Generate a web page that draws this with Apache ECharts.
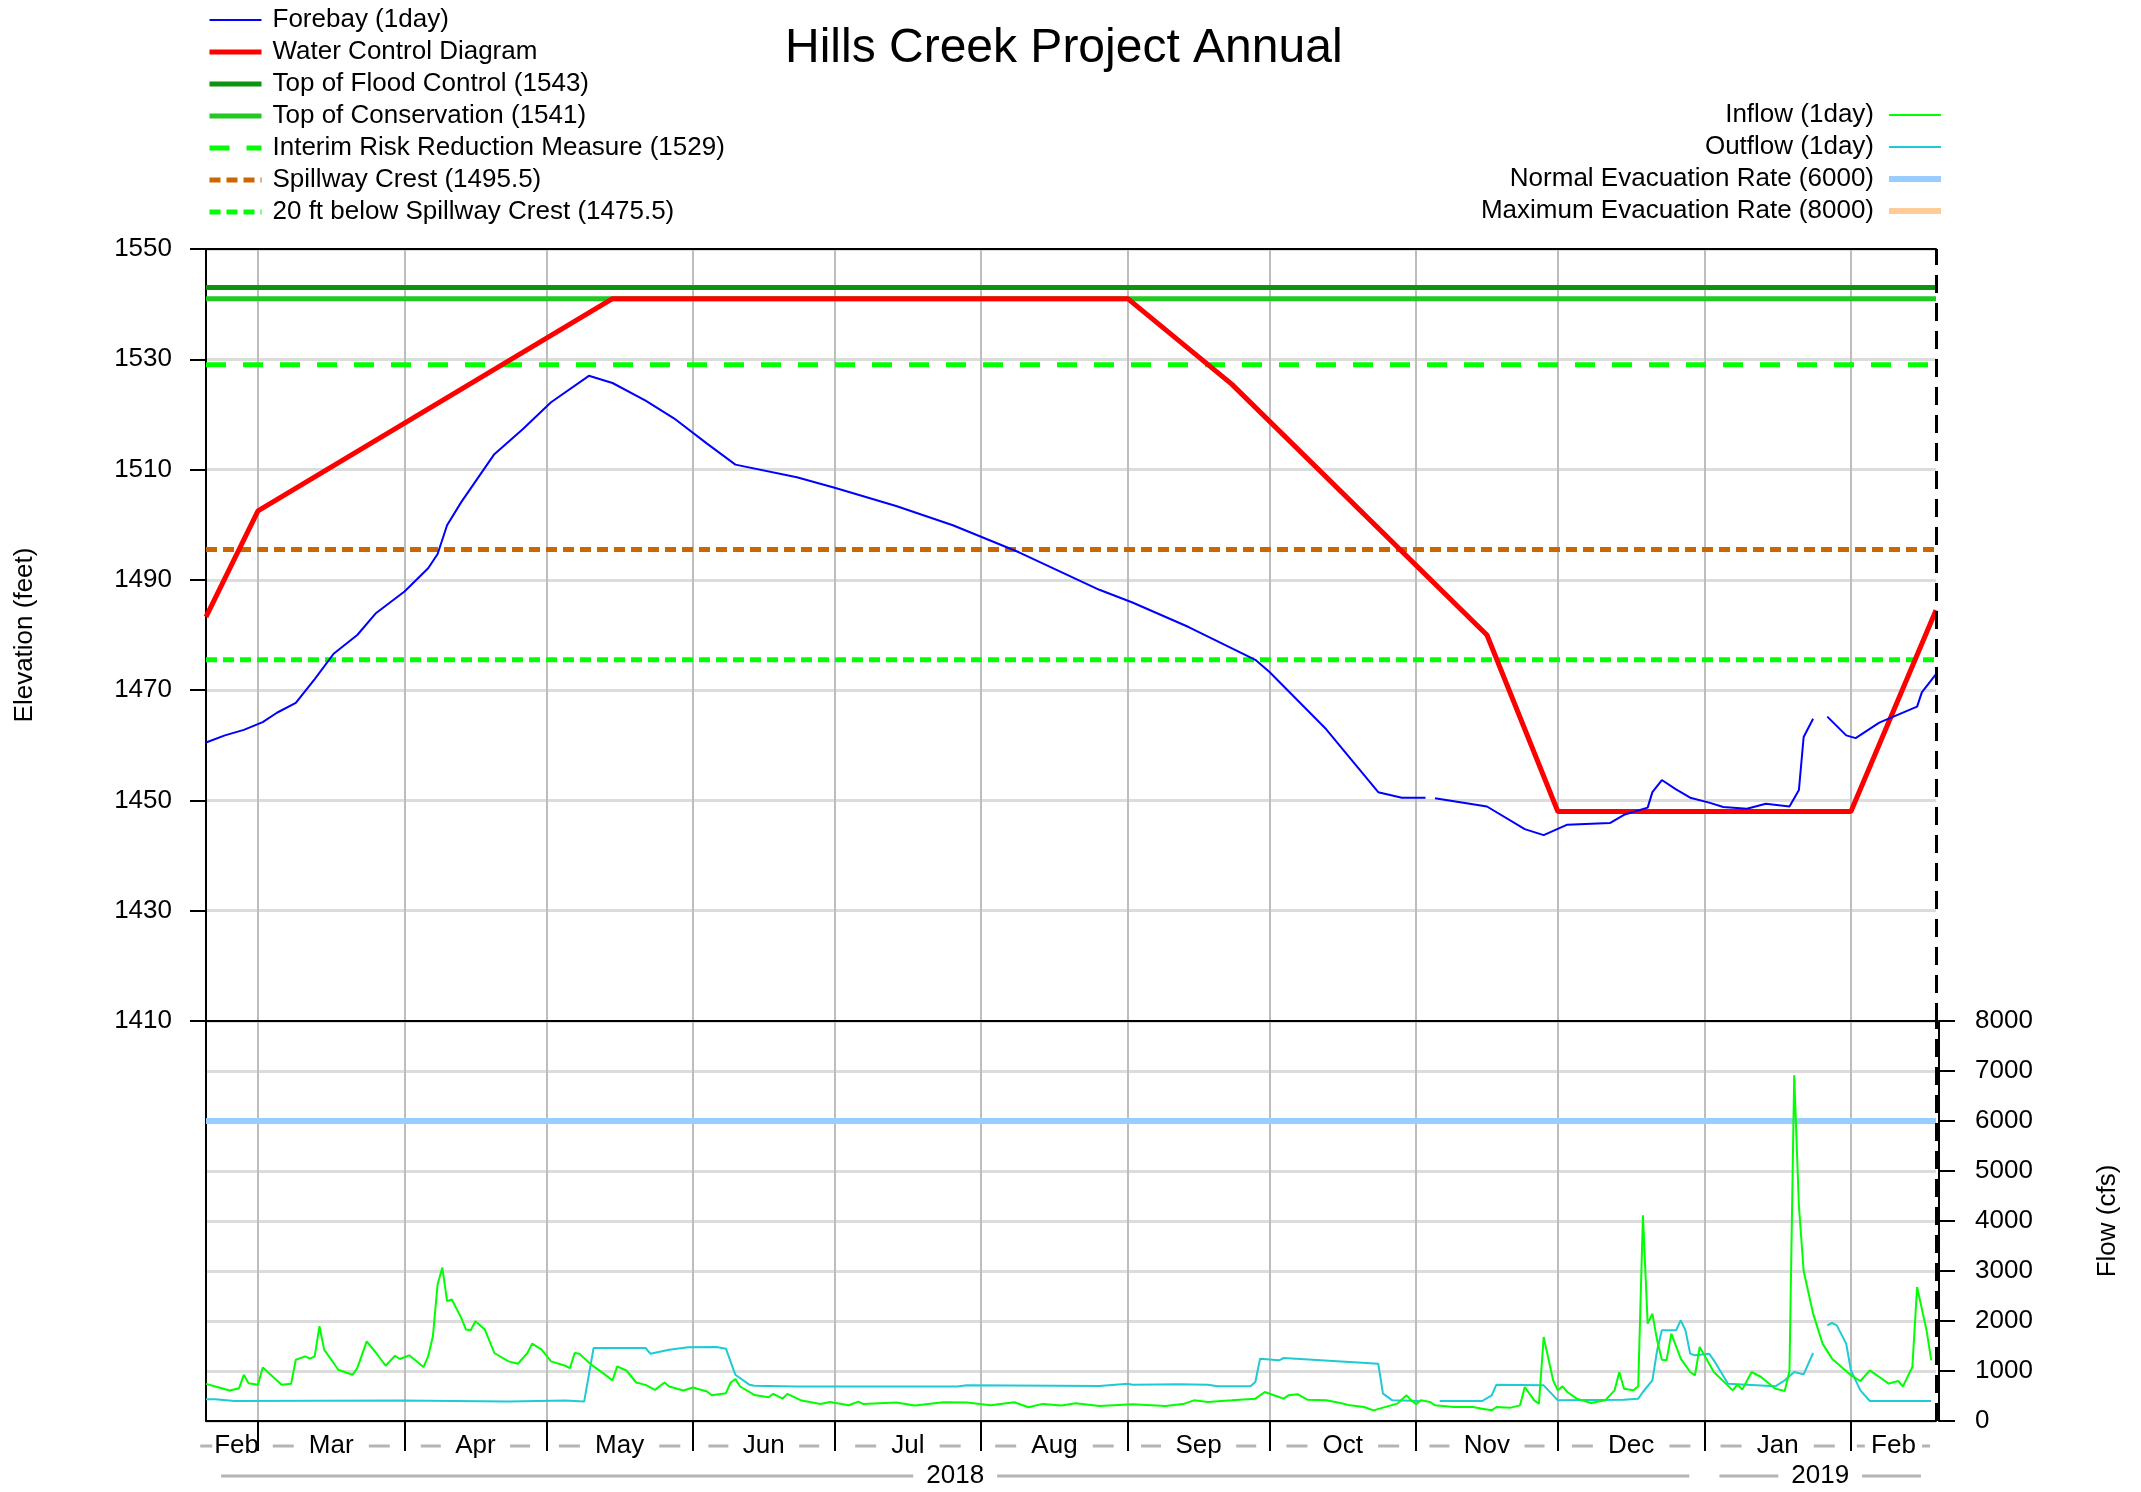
<!DOCTYPE html>
<html>
<head>
<meta charset="utf-8">
<title>Hills Creek Project Annual</title>
<script src="https://cdn.jsdelivr.net/npm/echarts@6.0.0/dist/echarts.min.js"></script>
<style>
  html, body { margin: 0; padding: 0; background: #fff; }
  #chart { width: 2141px; height: 1492px; }
</style>
</head>
<body>
<div id="chart"></div>
<script>
// axis runs day by day from 2018-02-18 to 2019-02-19
const startMs = Date.UTC(2018, 1, 18);
const dayCount = 367;
const monthNames = ['Jan', 'Feb', 'Mar', 'Apr', 'May', 'Jun', 'Jul', 'Aug', 'Sep', 'Oct', 'Nov', 'Dec'];

// elevation series (day number from start, feet)
const forebayDays = [0, 4, 8, 12, 15, 19, 23, 27, 32, 36, 42, 47, 49, 51, 54, 61, 67, 73, 81, 86, 93, 99, 106, 112, 125, 133, 146, 158, 172, 189, 196, 208, 222, 225, 237, 248, 253, 258, 259, 260, 271, 279, 283, 288, 297, 300, 305, 306, 308, 311, 314, 318, 321, 326, 330, 335, 337, 338, 340, 341, 343, 347, 349, 354, 362, 363, 366];
const forebayElev = [1460.5, 1461.8, 1462.8, 1464.2, 1465.9, 1467.7, 1472.0, 1476.6, 1480.0, 1484.0, 1487.9, 1492.1, 1494.7, 1499.9, 1504.1, 1512.8, 1517.3, 1522.2, 1527.0, 1525.7, 1522.5, 1519.3, 1514.7, 1510.9, 1508.6, 1506.7, 1503.4, 1499.9, 1495.0, 1488.2, 1485.9, 1481.4, 1475.5, 1473.3, 1462.9, 1451.5, 1450.5, 1450.5, null, 1450.4, 1448.9, 1444.8, 1443.7, 1445.6, 1445.9, 1447.4, 1448.7, 1451.5, 1453.7, 1452.0, 1450.5, 1449.6, 1448.8, 1448.5, 1449.4, 1448.9, 1451.9, 1461.5, 1464.8, null, 1465.2, 1461.8, 1461.3, 1464.1, 1467.0, 1469.6, 1472.9];

const wcdDays = [0, 11, 86, 195, 217, 271, 286, 348, 366];
const wcdElev = [1483.3, 1502.5, 1541, 1541, 1525.5, 1480, 1448, 1448, 1484.5];

const topFloodControl = 1543;
const topConservation = 1541;
const interimRisk = 1529;
const spillwayCrest = 1495.5;
const belowSpillway = 1475.5;

// flow series (cfs)
const inflowDays = [0, 2, 5, 7, 8, 9, 11, 12, 16, 18, 19, 21, 22, 23, 24, 25, 28, 31, 32, 34, 36, 38, 40, 41, 43, 46, 47, 48, 49, 50, 51, 52, 54, 55, 56, 57, 59, 61, 64, 66, 68, 69, 71, 73, 76, 77, 78, 79, 81, 82, 84, 86, 87, 89, 91, 93, 95, 97, 98, 101, 103, 106, 107, 110, 111, 112, 113, 116, 119, 120, 122, 123, 126, 130, 132, 136, 138, 139, 146, 150, 156, 161, 166, 171, 174, 177, 181, 184, 189, 196, 203, 207, 209, 212, 217, 222, 224, 227, 228, 229, 231, 233, 237, 240, 242, 245, 247, 249, 252, 254, 255, 256, 257, 259, 260, 264, 268, 270, 272, 273, 276, 278, 279, 281, 282, 283, 285, 286, 287, 288, 290, 293, 296, 298, 299, 300, 302, 303, 304, 305, 306, 307, 308, 309, 310, 312, 314, 315, 316, 319, 323, 324, 325, 327, 329, 332, 334, 335, 336, 337, 338, 340, 342, 344, 346, 348, 350, 352, 354, 356, 358, 359, 361, 362, 364, 365];
const inflowCfs = [743, 690, 610, 656, 924, 757, 723, 1072, 723, 743, 1226, 1293, 1246, 1293, 1895, 1427, 1025, 924, 1058, 1594, 1360, 1105, 1306, 1239, 1313, 1078, 1293, 1695, 2733, 3068, 2398, 2431, 2063, 1829, 1815, 1996, 1829, 1360, 1192, 1145, 1360, 1547, 1427, 1192, 1105, 1058, 1360, 1346, 1172, 1092, 958, 810, 1092, 1005, 770, 723, 623, 770, 690, 610, 670, 589, 516, 556, 770, 837, 690, 522, 476, 543, 449, 543, 409, 342, 382, 315, 388, 342, 368, 308, 375, 368, 315, 375, 275, 342, 308, 355, 301, 333, 300, 347, 413, 380, 413, 447, 580, 480, 447, 513, 533, 427, 413, 360, 313, 280, 213, 267, 347, 513, 413, 333, 413, 380, 313, 280, 280, 247, 213, 280, 267, 313, 680, 413, 347, 1680, 813, 613, 693, 580, 447, 360, 413, 613, 980, 647, 613, 693, 4115, 1947, 2147, 1613, 1227, 1213, 1747, 1247, 980, 913, 1480, 980, 613, 733, 627, 980, 880, 647, 600, 1000, 6917, 4300, 3000, 2147, 1547, 1247, 1080, 913, 800, 1013, 880, 747, 800, 693, 1080, 2680, 1813, 1213];

const outflowDays = [0, 2, 6, 41, 64, 76, 80, 82, 93, 94, 98, 102, 108, 110, 112, 115, 116, 125, 159, 161, 189, 195, 196, 206, 212, 214, 221, 222, 223, 227, 228, 248, 249, 251, 257, 259, 261, 270, 272, 273, 283, 284, 286, 300, 303, 304, 306, 307, 308, 311, 312, 313, 314, 315, 318, 319, 322, 332, 334, 336, 338, 340, 341, 343, 344, 345, 347, 348, 350, 352, 365];
const outflowCfs = [435, 435, 402, 409, 388, 409, 388, 1460, 1460, 1346, 1427, 1474, 1480, 1447, 924, 723, 703, 690, 690, 717, 700, 747, 727, 733, 727, 693, 693, 780, 1247, 1213, 1260, 1147, 547, 413, 400, null, 400, 400, 513, 727, 713, 613, 413, 427, 447, 580, 813, 1413, 1813, 1813, 2013, 1813, 1347, 1313, 1347, 1213, 747, 693, 813, 980, 933, 1360, null, 1913, 1960, 1913, 1547, 1013, 613, 400, 400];

const normalEvac = 6000;
const maxEvac = 8000;

const chartFont = '"Liberation Sans", Arial, sans-serif';
const plotLeft = 206, plotRight = 1936;

// categories
const days = [], dayDates = [];
for (let i = 0; i < dayCount; i++) {
  const d = new Date(startMs + i * 86400000);
  dayDates.push(d);
  days.push(d.toISOString().slice(0, 10));
}
const monthStarts = [], yearStarts = [];
dayDates.forEach((d, i) => {
  if (d.getUTCDate() === 1) {
    monthStarts.push(i);
    if (d.getUTCMonth() === 0) yearStarts.push(i);
  }
});
const monthSet = new Set(monthStarts), yearSet = new Set(yearStarts);
const pxPerDay = (plotRight - plotLeft) / (dayCount - 1);

function sectionsOf(starts) {
  const b = [0].concat(starts, [dayCount - 1]);
  const out = [];
  for (let k = 0; k < b.length - 1; k++) out.push([b[k], b[k + 1]]);
  return out;
}

// month labels: "— Mar —" centred in each month
const monthLabels = {}, monthRich = {};
sectionsOf(monthStarts).forEach(([a, b], k) => {
  const c = (a + b) / 2, idx = Math.floor(c), shift = (c - idx) * pxPerDay;
  const name = monthNames[dayDates[a].getUTCMonth()];
  const side = ((b - a) * pxPerDay - 44) / 2;
  if (side < 12) {
    monthRich['d' + k] = { width: 12, height: 3, lineHeight: 3, fontSize: 1, backgroundColor: '#b4b4b4', verticalAlign: 'middle' };
    monthRich['i' + k] = { width: 2 };
    monthLabels[idx] = `{d${k}| }{i${k}| }${name}`;
  } else {
    const dash = Math.round(side * 0.4), gap = (side - dash) / 2;
    const outer = Math.max(0, gap - 5);
    monthRich['o' + k] = { width: outer + shift };
    monthRich['q' + k] = { width: Math.max(0, outer - shift) };
    monthRich['i' + k] = { width: gap };
    monthRich['d' + k] = { width: dash, height: 3, lineHeight: 3, fontSize: 1, backgroundColor: '#b4b4b4', verticalAlign: 'middle' };
    monthLabels[idx] = `{o${k}| }{d${k}| }{i${k}| }${name}{i${k}| }{d${k}| }{q${k}| }`;
  }
});

// year labels with long rules either side
const yearLabels = {}, yearRich = {};
sectionsOf(yearStarts).forEach(([a, b], k) => {
  const c = (a + b) / 2, idx = Math.floor(c), shift = (c - idx) * pxPerDay;
  const name = String(dayDates[a].getUTCFullYear());
  const side = ((b - a) * pxPerDay - 58) / 2;
  const line = side - 28;
  yearRich['o' + k] = { width: 6 + shift };
  yearRich['q' + k] = { width: 6 - shift };
  yearRich['i' + k] = { width: 13 };
  yearRich['l' + k] = { width: line, height: 3, lineHeight: 3, fontSize: 1, backgroundColor: '#b4b4b4', verticalAlign: 'middle' };
  yearLabels[idx] = `{o${k}| }{l${k}| }{i${k}| }${name}{i${k}| }{l${k}| }{q${k}| }`;
});

function pairs(xs, ys) {
  return xs.map((d, i) => [days[d], ys[i] === null ? '-' : ys[i]]);
}
function level(v) {
  return [[days[0], v], [days[dayCount - 1], v]];
}

const todayLine = {
  symbol: 'none', silent: true, animation: false,
  label: { show: false },
  lineStyle: { color: '#000', width: 3, type: [18, 10] },
  emphasis: { disabled: true },
  data: [{ xAxis: days[dayCount - 1] }]
};

const black = { color: '#000', width: 2 };
const vGrid = { show: true, interval: (i) => monthSet.has(i), lineStyle: { color: '#bdbdbd', width: 2 } };
const hGrid = { show: true, lineStyle: { color: '#dcdcdc', width: 3 } };
const plain = (v) => String(v);

const chart = echarts.init(document.getElementById('chart'));
chart.setOption({
  animation: false,
  backgroundColor: '#fff',
  textStyle: { fontFamily: chartFont },
  title: {
    text: 'Hills Creek Project Annual',
    left: 785, top: 25, padding: 0,
    textStyle: { fontSize: 48, fontWeight: 'normal', color: '#000', fontFamily: chartFont }
  },
  legend: [{
    orient: 'vertical', left: 207, top: 4, padding: 0,
    itemWidth: 52, itemHeight: 14, itemGap: 0,
    selectedMode: false,
    itemStyle: { opacity: 0 },
    lineStyle: { width: 'inherit' },
    textStyle: { fontSize: 26, color: '#000', lineHeight: 32, padding: [0, 0, 0, 6], fontFamily: chartFont },
    data: ['Forebay (1day)', 'Water Control Diagram', 'Top of Flood Control (1543)', 'Top of Conservation (1541)',
      'Interim Risk Reduction Measure (1529)', 'Spillway Crest (1495.5)', '20 ft below Spillway Crest (1475.5)']
  }, {
    orient: 'vertical', right: 197, top: 99, padding: 0, align: 'right',
    itemWidth: 52, itemHeight: 14, itemGap: 0,
    selectedMode: false,
    itemStyle: { opacity: 0 },
    lineStyle: { width: 'inherit' },
    textStyle: { fontSize: 26, color: '#000', lineHeight: 32, padding: [0, 10, 0, 0], fontFamily: chartFont },
    data: ['Inflow (1day)', 'Outflow (1day)', 'Normal Evacuation Rate (6000)',
      { name: 'Maximum Evacuation Rate (8000)', lineStyle: { width: 6 } }]
  }],
  grid: [
    { left: plotLeft, top: 249, width: plotRight - plotLeft, height: 772, outerBoundsMode: 'none' },
    { left: plotLeft, top: 1021, width: plotRight - plotLeft, height: 400, outerBoundsMode: 'none' }
  ],
  xAxis: [{
    gridIndex: 0, type: 'category', data: days, boundaryGap: false, position: 'bottom',
    axisLine: { show: true, lineStyle: black }, axisTick: { show: false }, axisLabel: { show: false },
    splitLine: vGrid
  }, {
    gridIndex: 0, type: 'category', data: days, boundaryGap: false, position: 'top',
    axisLine: { show: true, lineStyle: black }, axisTick: { show: false }, axisLabel: { show: false },
    splitLine: { show: false }
  }, {
    gridIndex: 1, type: 'category', data: days, boundaryGap: false, position: 'bottom',
    axisLine: { show: true, lineStyle: black },
    axisTick: { show: true, interval: (i) => monthSet.has(i), length: 30, lineStyle: black },
    axisLabel: {
      show: true, interval: (i) => i in monthLabels, formatter: (v, i) => monthLabels[i] || '',
      showMinLabel: true, showMaxLabel: true,
      hideOverlap: false, margin: 10, fontSize: 26, color: '#000', lineHeight: 30, fontFamily: chartFont, rich: monthRich
    },
    splitLine: vGrid
  }, {
    gridIndex: 1, type: 'category', data: days, boundaryGap: false, position: 'bottom', offset: 38,
    axisLine: { show: false },
    axisTick: { show: true, interval: (i) => yearSet.has(i), length: 28, lineStyle: black },
    axisLabel: {
      show: true, interval: (i) => i in yearLabels, formatter: (v, i) => yearLabels[i] || '',
      showMinLabel: true, showMaxLabel: true,
      hideOverlap: false, margin: 2, fontSize: 26, color: '#000', lineHeight: 30, fontFamily: chartFont, rich: yearRich
    },
    splitLine: { show: false }
  }, {
    gridIndex: 1, type: 'category', data: days, boundaryGap: false, position: 'top', z: 10,
    axisLine: { show: true, lineStyle: black }, axisTick: { show: false }, axisLabel: { show: false },
    splitLine: { show: false }
  }],
  yAxis: [{
    gridIndex: 0, type: 'value', min: 1410, max: 1550, interval: 20, position: 'left',
    axisLine: { show: true, lineStyle: black },
    axisTick: { show: true, length: 16, lineStyle: black },
    axisLabel: { fontSize: 26, color: '#000', margin: 34, fontFamily: chartFont, formatter: plain },
    splitLine: hGrid,
    name: 'Elevation (feet)', nameLocation: 'middle', nameGap: 168, nameRotate: 90,
    nameTextStyle: { fontSize: 26, color: '#000', fontFamily: chartFont }
  }, {
    gridIndex: 1, type: 'value', min: 0, max: 8000, interval: 1000, position: 'right', offset: 3,
    axisLine: { show: true, lineStyle: black },
    axisTick: { show: true, length: 16, lineStyle: black },
    axisLabel: { fontSize: 26, color: '#000', margin: 36, fontFamily: chartFont, formatter: plain },
    splitLine: hGrid,
    name: 'Flow (cfs)', nameLocation: 'middle', nameGap: 156, nameRotate: 90,
    nameTextStyle: { fontSize: 26, color: '#000', fontFamily: chartFont }
  }, {
    gridIndex: 1, type: 'value', min: 0, max: 8000, position: 'left',
    axisLine: { show: true, lineStyle: black }, axisTick: { show: false }, axisLabel: { show: false },
    splitLine: { show: false }
  }],
  series: [
    { name: 'Top of Flood Control (1543)', type: 'line', xAxisIndex: 0, yAxisIndex: 0, symbol: 'none',
      lineStyle: { color: '#0e930e', width: 5 }, itemStyle: { color: '#0e930e' }, data: level(topFloodControl) },
    { name: 'Top of Conservation (1541)', type: 'line', xAxisIndex: 0, yAxisIndex: 0, symbol: 'none',
      lineStyle: { color: '#22c922', width: 5 }, itemStyle: { color: '#22c922' }, data: level(topConservation) },
    { name: 'Interim Risk Reduction Measure (1529)', type: 'line', xAxisIndex: 0, yAxisIndex: 0, symbol: 'none',
      lineStyle: { color: '#00ff00', width: 5, type: [20, 17] }, itemStyle: { color: '#00ff00' }, data: level(interimRisk) },
    { name: 'Spillway Crest (1495.5)', type: 'line', xAxisIndex: 0, yAxisIndex: 0, symbol: 'none',
      lineStyle: { color: '#cc6600', width: 5, type: [11, 6] }, itemStyle: { color: '#cc6600' }, data: level(spillwayCrest) },
    { name: '20 ft below Spillway Crest (1475.5)', type: 'line', xAxisIndex: 0, yAxisIndex: 0, symbol: 'none',
      lineStyle: { color: '#00ff00', width: 5, type: [11, 6] }, itemStyle: { color: '#00ff00' }, data: level(belowSpillway) },
    { name: 'Water Control Diagram', type: 'line', xAxisIndex: 0, yAxisIndex: 0, symbol: 'none',
      lineStyle: { color: '#ff0000', width: 5 }, itemStyle: { color: '#ff0000' }, data: pairs(wcdDays, wcdElev) },
    { name: 'Forebay (1day)', type: 'line', xAxisIndex: 0, yAxisIndex: 0, symbol: 'none',
      lineStyle: { color: '#0000ff', width: 2 }, itemStyle: { color: '#0000ff' }, data: pairs(forebayDays, forebayElev),
      markLine: todayLine },
    { name: 'Maximum Evacuation Rate (8000)', type: 'line', xAxisIndex: 2, yAxisIndex: 1, symbol: 'none',
      lineStyle: { color: '#ffcc99', width: 2 }, itemStyle: { color: '#ffcc99' }, data: level(maxEvac) },
    { name: 'Normal Evacuation Rate (6000)', type: 'line', xAxisIndex: 2, yAxisIndex: 1, symbol: 'none',
      lineStyle: { color: '#99ccff', width: 6 }, itemStyle: { color: '#99ccff' }, data: level(normalEvac) },
    { name: 'Outflow (1day)', type: 'line', xAxisIndex: 2, yAxisIndex: 1, symbol: 'none',
      lineStyle: { color: '#1ecbd3', width: 2 }, itemStyle: { color: '#1ecbd3' }, data: pairs(outflowDays, outflowCfs) },
    { name: 'Inflow (1day)', type: 'line', xAxisIndex: 2, yAxisIndex: 1, symbol: 'none',
      lineStyle: { color: '#00ff00', width: 2 }, itemStyle: { color: '#00ff00' }, data: pairs(inflowDays, inflowCfs),
      markLine: todayLine }
  ]
});
</script>
</body>
</html>
